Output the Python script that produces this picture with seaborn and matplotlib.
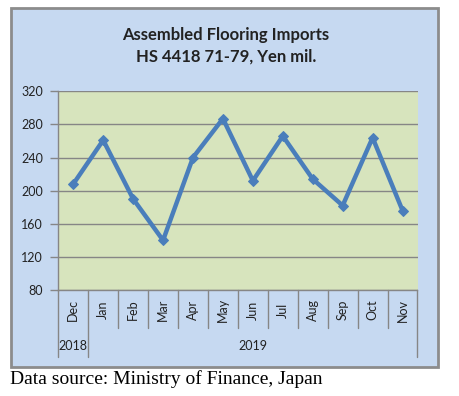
import matplotlib
matplotlib.use("Agg")
import matplotlib.pyplot as plt
import matplotlib.patches as mpatches
import seaborn as sns
import pandas as pd

months = ["Dec", "Jan", "Feb", "Mar", "Apr", "May", "Jun", "Jul", "Aug", "Sep", "Oct", "Nov"]
imports = [208, 261, 190, 140, 240, 287, 212, 266, 214, 182, 264, 176]
years = ["2018", "2019"]
year_spans = [(0, 1), (1, 12)]
yticks = [80, 120, 160, 200, 240, 280, 320]

sns.set_style("white")
plt.rcParams['font.family'] = ['Lato', 'DejaVu Sans']

W, H = 459, 396
fig = plt.figure(figsize=(W / 100, H / 100), dpi=100)
fig.patch.set_facecolor("white")

# outer chart area
bg = mpatches.Rectangle((11 / W, 1 - 367 / H), (438 - 11) / W, (367 - 8) / H,
                        transform=fig.transFigure, facecolor="#C6D9F1",
                        edgecolor="#8C8C8C", linewidth=2, zorder=-10)
fig.patches.append(bg)

left, right, top, bottom = 58.3 / W, 417.5 / W, 1 - 91.3 / H, 1 - 290 / H
ax = fig.add_axes([left, bottom, right - left, top - bottom])
ax.set_zorder(5)
ax.set_facecolor("#D7E4BD")

df = pd.DataFrame({"month": months, "value": imports})
sns.lineplot(data=df, x="month", y="value", ax=ax, color="#4A7EBB", linewidth=3.2,
             marker="D", markersize=5, markeredgecolor="#4A7EBB", sort=False)

ax.set_xlim(-0.5, len(months) - 0.5)
ax.set_ylim(80, 320)
ax.set_yticks(yticks)
ax.set_yticklabels([str(t) for t in yticks], fontsize=9, color="#222222")
ax.yaxis.grid(True, color="#868686", linewidth=1)
ax.set_axisbelow(True)
ax.tick_params(axis="y", length=6, width=1, color="#868686", pad=5, left=True)
ax.set_xticks([])
ax.set_xlabel("")
ax.set_ylabel("")
for s in ["top", "right"]:
    ax.spines[s].set_visible(False)
ax.spines["left"].set_color("#868686")
ax.spines["bottom"].set_color("#868686")
ax.spines["left"].set_linewidth(1)
ax.spines["bottom"].set_linewidth(1)

# category axis: month labels and separators
trans = ax.get_xaxis_transform()
ph = top - bottom
def yfrac(ypix):
    return ((1 - ypix / H) - bottom) / ph

for i, m in enumerate(months):
    ax.text(i, yfrac(310), m, rotation=90, ha="center", va="center", fontsize=9,
            color="#222222", transform=trans, clip_on=False)
for i in range(len(months) + 1):
    x = i - 0.5
    is_year = any(x == s - 0.5 for s, e in year_spans) or x == len(months) - 0.5
    yend = 357 if is_year else 328
    ax.plot([x, x], [0, yfrac(yend)], color="#868686", linewidth=1, transform=trans, clip_on=False)

for yr, (s, e) in zip(years, year_spans):
    ax.text((s + e - 1) / 2, yfrac(346), yr, ha="center", va="center", fontsize=9,
            color="#222222", transform=trans, clip_on=False)

fig.text(226 / W, 1 - 35 / H, "Assembled Flooring Imports", ha="center", va="center",
         fontsize=12, fontweight="bold", color="#222222")
fig.text(226 / W, 1 - 57 / H, "HS 4418 71-79, Yen mil.", ha="center", va="center",
         fontsize=12, fontweight="bold", color="#222222")

fig.text(10 / W, 1 - 379 / H, "Data source: Ministry of Finance, Japan", ha="left", va="center",
         fontsize=14, family="Liberation Serif", color="black")

fig.savefig("out.png", dpi=100, facecolor="white")
